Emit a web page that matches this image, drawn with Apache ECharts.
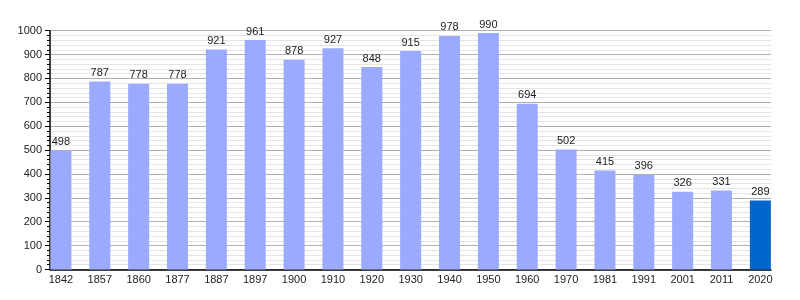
<!DOCTYPE html>
<html>
<head>
<meta charset="utf-8">
<script src="https://cdn.jsdelivr.net/npm/echarts@6/dist/echarts.min.js"></script>
<style>html,body{margin:0;padding:0;background:#fff}#c{width:800px;height:300px}</style>
</head>
<body>
<div id="c"></div>
<script>
var years = ['1842','1857','1860','1877','1887','1897','1900','1910','1920','1930','1940','1950','1960','1970','1981','1991','2001','2011','2020'];
var population = [498,787,778,778,921,961,878,927,848,915,978,990,694,502,415,396,326,331,289];
var yTicks = [0,100,200,300,400,500,600,700,800,900,1000];

var lightColor = '#99aaff';
var darkColor = '#0066cc';
var font = 'Liberation Sans, Arial, sans-serif';

var chart = echarts.init(document.getElementById('c'), null, {renderer:'canvas'});
var barData = population.map(function(v,i){
  return {value:v, itemStyle:{color: i === population.length-1 ? darkColor : lightColor}};
});
chart.setOption({
  animation:false,
  grid:[
    {left:50, right:29, top:30.7, bottom:30.5},
    {left:41.5, right:20.2, top:30.7, bottom:30.5}
  ],
  xAxis:[
    {gridIndex:0, type:'value', min:0, max:1, show:true,
     axisLine:{show:true, onZero:false, lineStyle:{color:'#000', width:1.5}},
     axisTick:{show:false}, axisLabel:{show:false}, splitLine:{show:false}},
    {gridIndex:1, type:'category', data:years,
     axisLine:{show:false}, axisTick:{show:false},
     axisLabel:{margin:5, color:'#222', fontSize:11, fontFamily:font}}
  ],
  yAxis:[
    {gridIndex:0, type:'value', min:yTicks[0], max:yTicks[yTicks.length-1], interval:100,
     axisLine:{show:true, lineStyle:{color:'#000', width:1.5}},
     axisTick:{show:true, length:5, lineStyle:{color:'#000'}},
     minorTick:{show:true, splitNumber:5, length:3, lineStyle:{color:'#000'}},
     axisLabel:{margin:8, color:'#222', fontSize:11, fontFamily:font, formatter:function(v){return String(v);}},
     splitLine:{show:true, lineStyle:{color:'#b0b0b0', width:1}},
     minorSplitLine:{show:true, lineStyle:{color:'#e4e4e4', width:1}}},
    {gridIndex:1, type:'value', min:0, max:1000, show:false}
  ],
  series:[{
    type:'bar', xAxisIndex:1, yAxisIndex:1, data:barData, barWidth:21,
    label:{show:true, position:'top', distance:3, color:'#222', fontSize:11, fontFamily:font}
  }]
});
</script>
</body>
</html>
